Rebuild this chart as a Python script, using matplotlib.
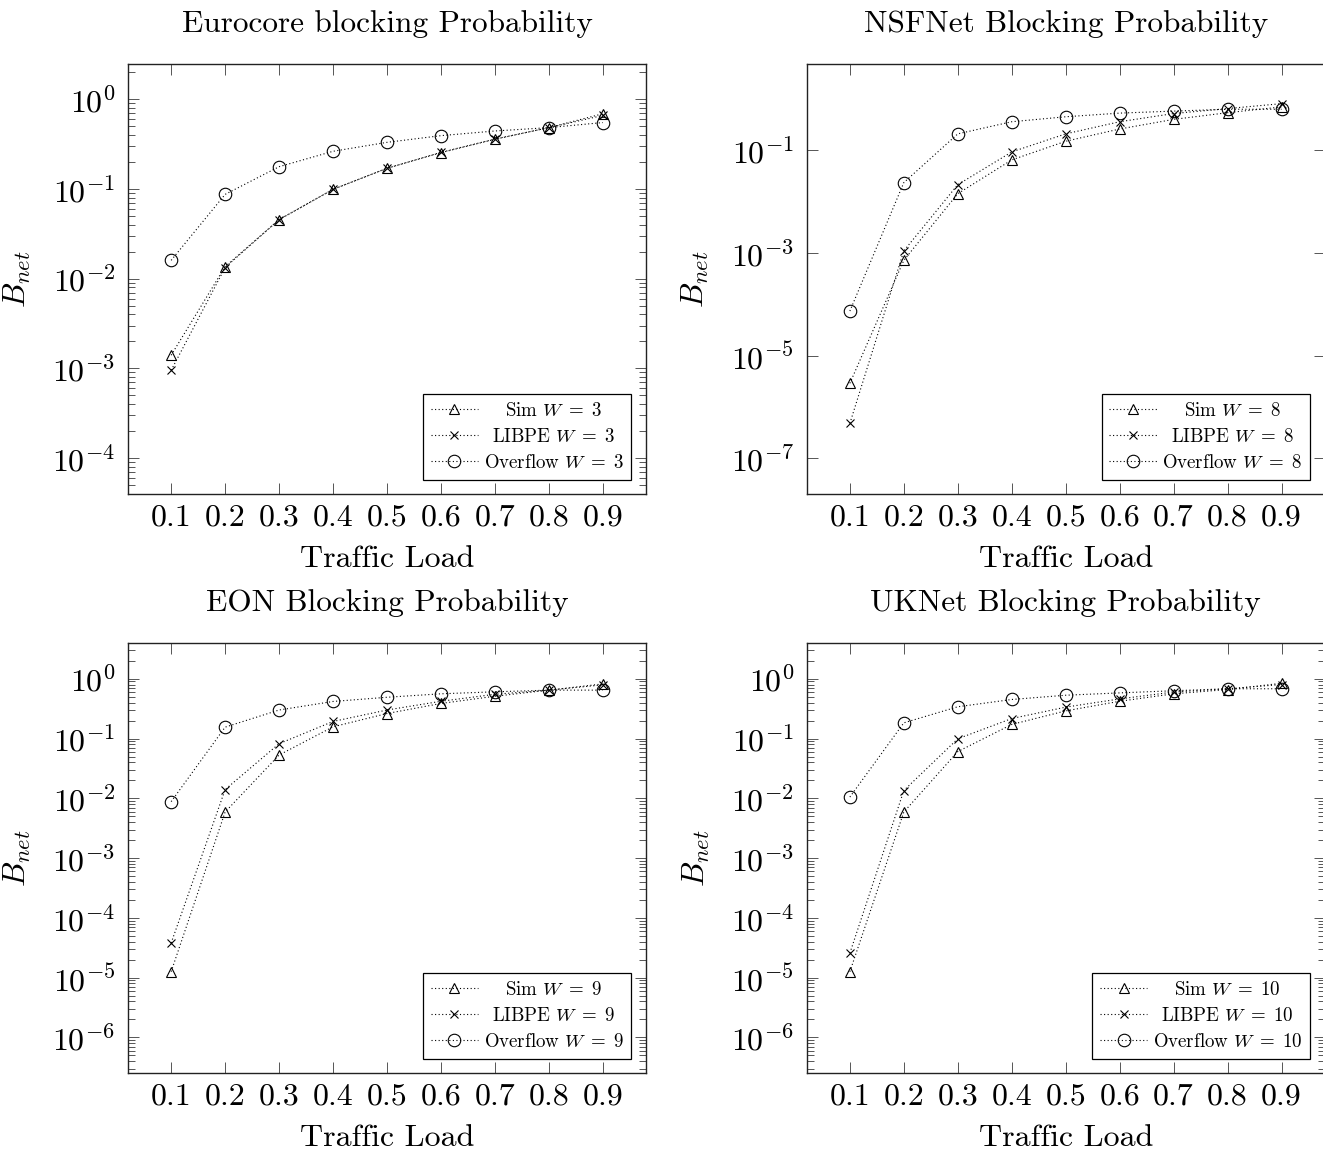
import numpy as np
import matplotlib
matplotlib.use("Agg")
import matplotlib.pyplot as plt
from matplotlib.ticker import LogLocator, NullLocator, FixedLocator

plt.rcParams['font.family'] = 'cmr10'
plt.rcParams['mathtext.fontset'] = 'cm'
plt.rcParams['axes.formatter.use_mathtext'] = True
plt.rcParams['axes.unicode_minus'] = False

# traffic load (x axis)
load = [0.1, 0.2, 0.3, 0.4, 0.5, 0.6, 0.7, 0.8, 0.9]
load_labels = ["0.1", "0.2", "0.3", "0.4", "0.5", "0.6", "0.7", "0.8", "0.9"]

# Eurocore, W = 3
eurocore_sim = [1.4e-3, 0.0136, 0.0455, 0.099, 0.17, 0.254, 0.358, 0.483, 0.69]
eurocore_libpe = [9.5e-4, 0.0133, 0.0455, 0.099, 0.17, 0.256, 0.36, 0.483, 0.66]
eurocore_overflow = [0.016, 0.087, 0.177, 0.263, 0.331, 0.393, 0.443, 0.483, 0.55]

# NSFNet, W = 8
nsfnet_sim = [2.9e-6, 7.2e-4, 0.0143, 0.065, 0.15, 0.26, 0.40, 0.54, 0.70]
nsfnet_libpe = [4.8e-7, 1.1e-3, 0.0214, 0.093, 0.209, 0.36, 0.52, 0.65, 0.81]
nsfnet_overflow = [7.4e-5, 0.0235, 0.209, 0.36, 0.45, 0.53, 0.58, 0.63, 0.63]

# EON, W = 9
eon_sim = [1.26e-5, 5.9e-3, 0.053, 0.157, 0.262, 0.386, 0.51, 0.645, 0.82]
eon_libpe = [3.8e-5, 0.014, 0.082, 0.193, 0.30, 0.42, 0.55, 0.645, 0.79]
eon_overflow = [8.8e-3, 0.155, 0.30, 0.417, 0.49, 0.56, 0.605, 0.645, 0.645]

# UKNet, W = 10
uknet_sim = [1.26e-5, 5.9e-3, 0.0605, 0.172, 0.29, 0.42, 0.56, 0.66, 0.84]
uknet_libpe = [2.57e-5, 0.0135, 0.099, 0.216, 0.335, 0.46, 0.60, 0.68, 0.80]
uknet_overflow = [0.0105, 0.183, 0.34, 0.45, 0.53, 0.58, 0.63, 0.68, 0.68]

W, H = 1323, 1152
fig = plt.figure(figsize=(W / 100, H / 100), dpi=100)


def make_axes(x0, y0, w, h):
    return fig.add_axes([x0 / W, 1 - (y0 + h) / H, w / W, h / H])


panels = [
    # title, w, sim, libpe, overflow, (ylog min, ylog max), position, major y ticks, minors
    ("Eurocore blocking Probability", 3, eurocore_sim, eurocore_libpe, eurocore_overflow,
     (-4.405, 0.39), (128, 64.3, 518, 430), [1e-4, 1e-3, 1e-2, 1e-1, 1e0], True),
    ("NSFNet Blocking Probability", 8, nsfnet_sim, nsfnet_libpe, nsfnet_overflow,
     (-7.70, 0.675), (806.7, 64.3, 518, 430), [1e-7, 1e-5, 1e-3, 1e-1], False),
    ("EON Blocking Probability", 9, eon_sim, eon_libpe, eon_overflow,
     (-6.60, 0.603), (128, 642.7, 518, 430.6), [1e-6, 1e-5, 1e-4, 1e-3, 1e-2, 1e-1, 1e0], True),
    ("UKNet Blocking Probability", 10, uknet_sim, uknet_libpe, uknet_overflow,
     (-6.60, 0.603), (806.7, 642.7, 518, 430.6), [1e-6, 1e-5, 1e-4, 1e-3, 1e-2, 1e-1, 1e0], True),
]

line_kw = dict(color='black', linewidth=0.8, linestyle=(0, (1, 2.2)),
               markerfacecolor='none', markeredgecolor='black', markeredgewidth=0.8)

legends = []
for title, w, sim, libpe, over, ylog, pos, majors, minors in panels:
    ax = make_axes(*pos)
    ax.plot(load, sim, marker='^', markersize=7.5, label=f"Sim $W\\;=\\;{w}$", **line_kw)
    ax.plot(load, libpe, marker='x', markersize=6, label=f"LIBPE $W\\;=\\;{w}$", **line_kw)
    ax.plot(load, over, marker='o', markersize=9, label=f"Overflow $W\\;=\\;{w}$", **line_kw)

    ax.set_yscale('log')
    ax.set_xlim(0.02, 0.98)
    ax.set_ylim(10 ** ylog[0], 10 ** ylog[1])
    ax.xaxis.set_major_locator(FixedLocator(load))
    ax.set_xticklabels(load_labels)
    ax.yaxis.set_major_locator(FixedLocator(majors))
    if minors:
        ax.yaxis.set_minor_locator(LogLocator(base=10, subs=np.arange(2, 10), numticks=50))
    else:
        ax.yaxis.set_minor_locator(NullLocator())
    ax.xaxis.set_minor_locator(NullLocator())

    ax.tick_params(which='both', direction='in', top=True, right=True,
                   color='#555555', width=0.7, labelsize=23)
    ax.tick_params(which='major', length=8)
    ax.tick_params(which='minor', length=5)
    ax.tick_params(axis='x', pad=7)
    ax.tick_params(axis='y', pad=9)
    for s in ax.spines.values():
        s.set_linewidth(1.0)
        s.set_color('#222222')

    ax.set_title(title, fontsize=22.5, pad=23)
    ax.set_xlabel("Traffic Load", fontsize=23, labelpad=10)
    ax.set_ylabel("$B_{net}$", fontsize=23, labelpad=14)

    leg = ax.legend(loc='lower right', fontsize=13.6, fancybox=False, framealpha=1,
                    edgecolor='black', handlelength=2.5, handletextpad=0.3,
                    labelspacing=0.42, borderaxespad=0.78, borderpad=0.42)
    leg.get_frame().set_linewidth(0.9)
    legends.append(leg)

# centre the legend labels like pgfplots does
renderer = fig.canvas.get_renderer()
for leg in legends:
    texts = leg.get_texts()
    widths = [t.get_window_extent(renderer).width for t in texts]
    wmax = max(widths)
    for t, wd in zip(texts, widths):
        t.set_position(((wmax - wd) / 2, 0))

fig.savefig("out.png", dpi=100)
